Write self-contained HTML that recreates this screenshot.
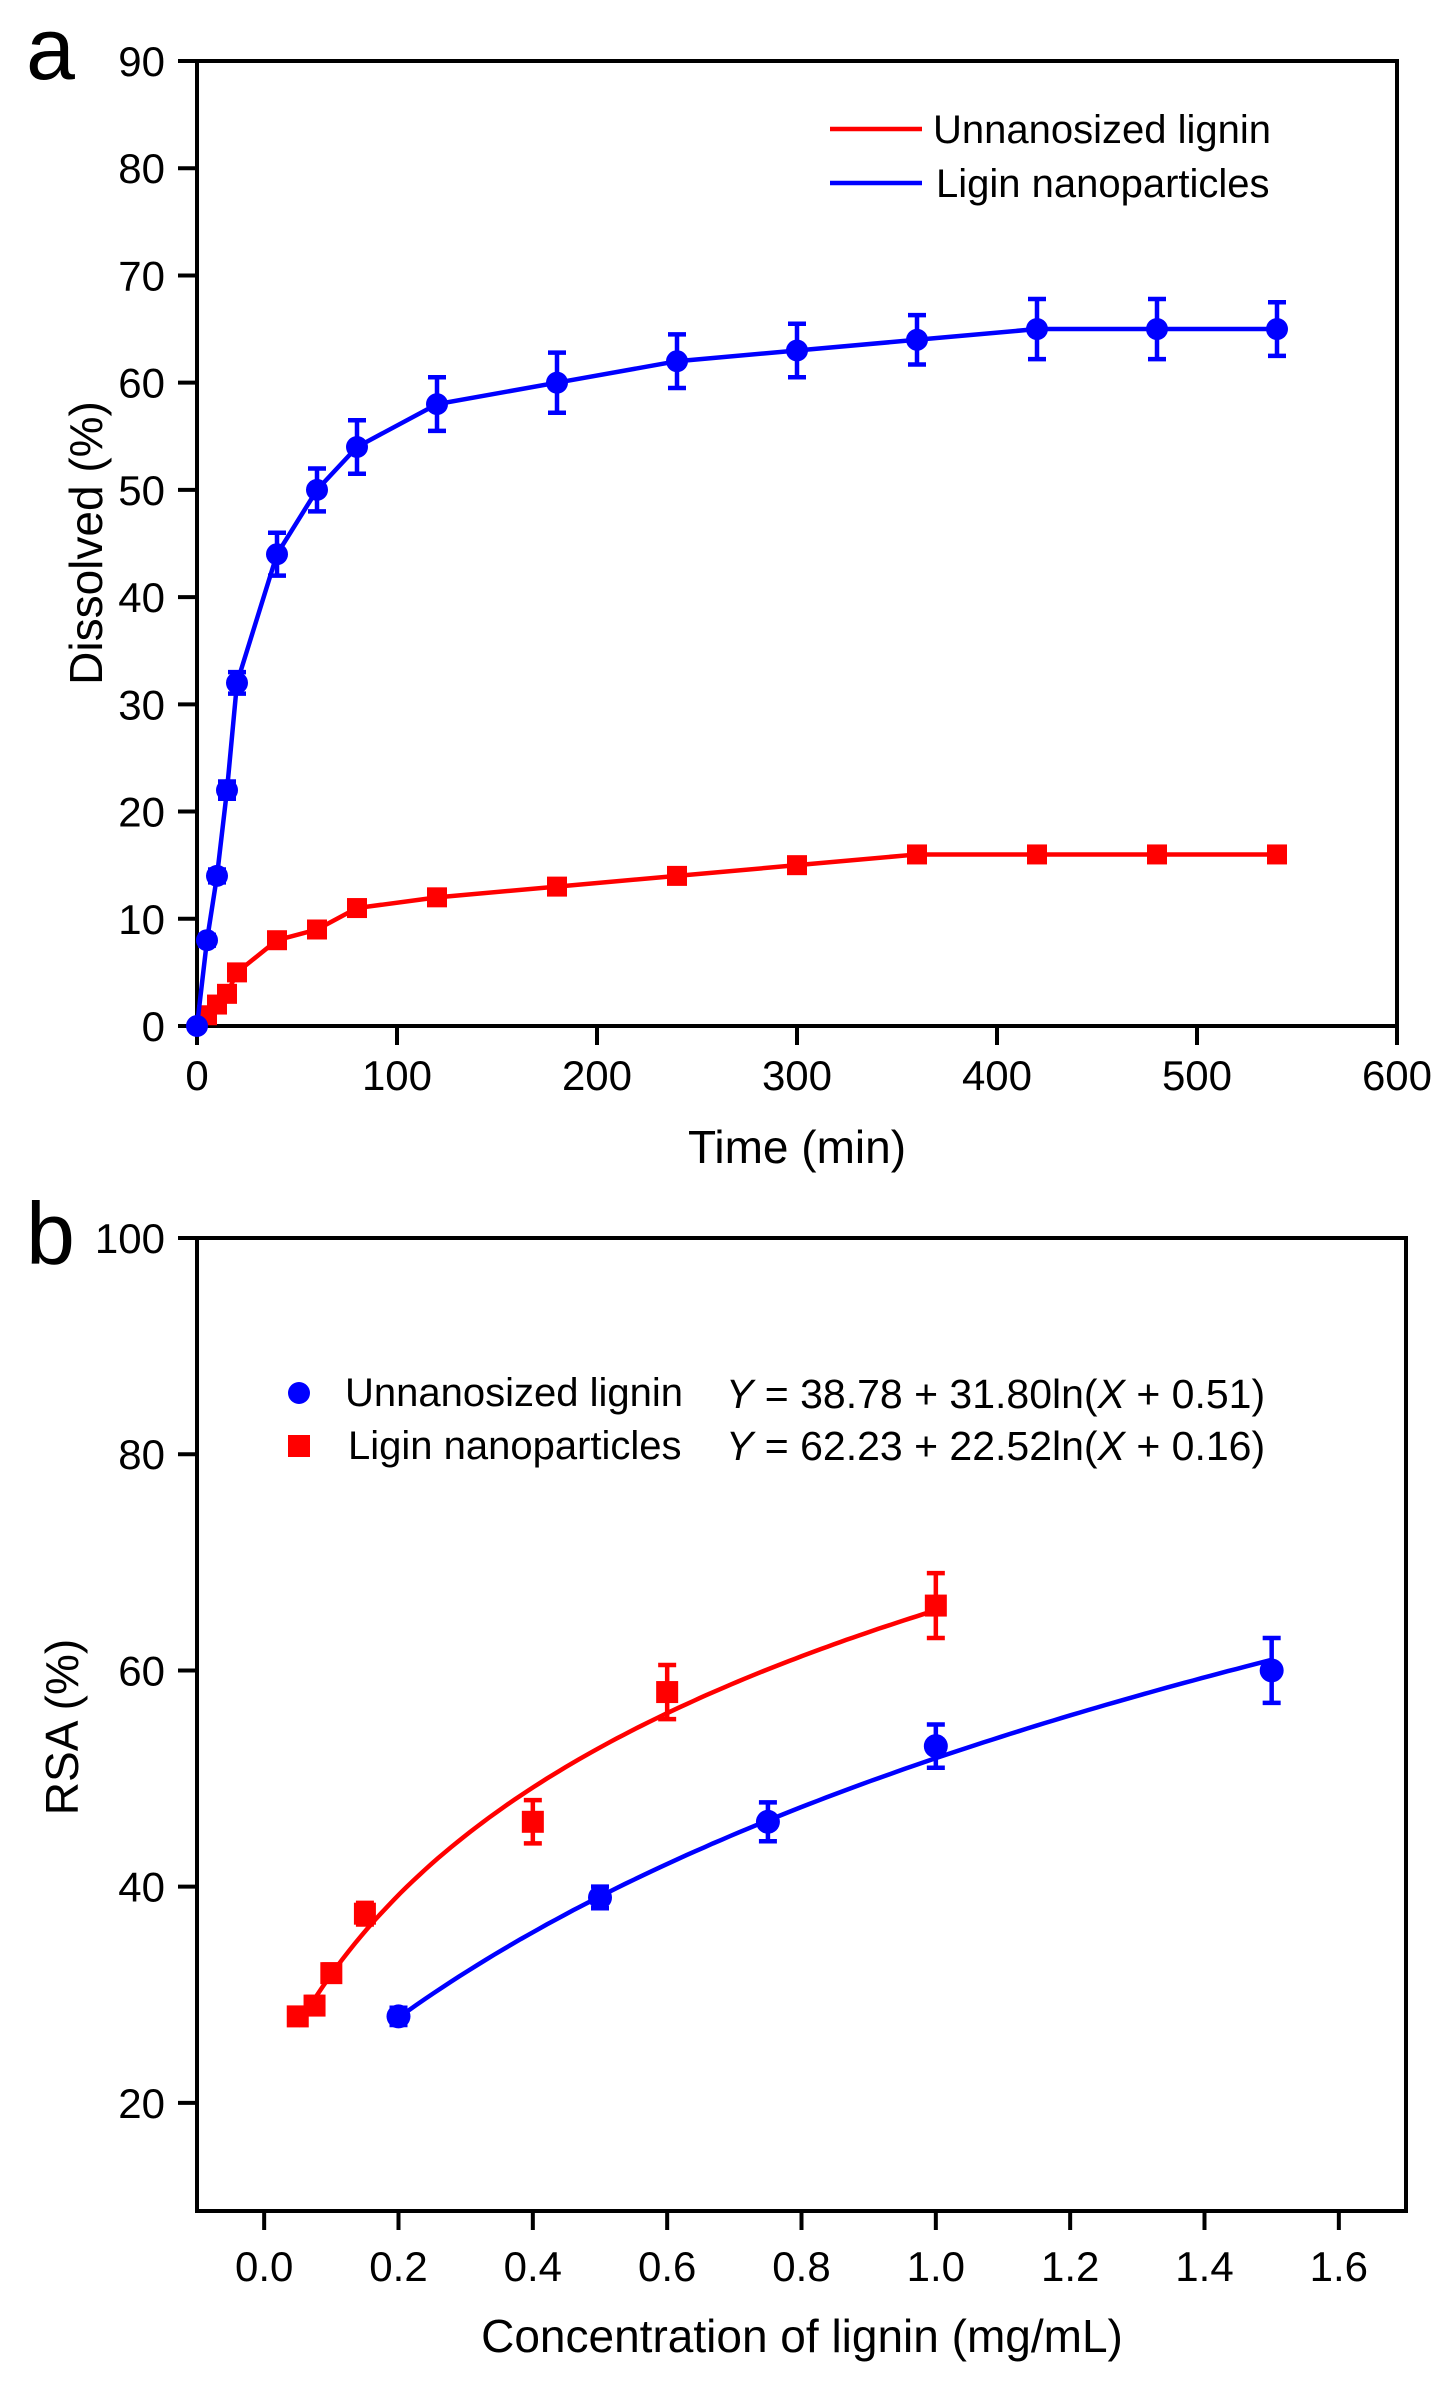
<!DOCTYPE html>
<html><head><meta charset="utf-8"><style>
html,body{margin:0;padding:0;background:#fff}
svg{display:block}
text{font-family:"Liberation Sans",Arial,sans-serif;fill:#000}
</style></head><body>
<svg id="fig" width="1446" height="2383" viewBox="0 0 1446 2383" xmlns="http://www.w3.org/2000/svg">
<text x="26" y="79" font-size="88">a</text>
<text x="26" y="1264" font-size="88">b</text>
<g id="ga"></g>
<g id="gb"></g>
</svg>
<script>
// ---- chart a data ----
const timesA = [0,5,10,15,20,40,60,80,120,180,240,300,360,420,480,540];
const nanoA = [0,8,14,22,32,44,50,54,58,60,62,63,64,65,65,65];
const nanoErrA = [0.3,0.5,0.6,0.8,1,2,2,2.5,2.5,2.8,2.5,2.5,2.3,2.8,2.8,2.5];
const timesRedA = [5,10,15,20,40,60,80,120,180,240,300,360,420,480,540];
const unnanoA = [1,2,3,5,8,9,11,12,13,14,15,16,16,16,16];
const xTicksA = [0,100,200,300,400,500,600];
const yTicksA = [0,10,20,30,40,50,60,70,80,90];
// ---- chart b data ----
const concBlue = [0.2,0.5,0.75,1.0,1.5];
const rsaBlue = [28,39,46,53,60];
const rsaBlueErr = [0.8,1,1.8,2,3];
const concRed = [0.05,0.075,0.1,0.15,0.4,0.6,1.0];
const rsaRed = [28,29,32,37.5,46,58,66];
const rsaRedErr = [0.5,0.8,0.8,1,2,2.5,3];
const fitBlue = [38.78,31.80,0.51];
const fitRed = [62.23,22.52,0.16];
const xTicksB = ["0.0","0.2","0.4","0.6","0.8","1.0","1.2","1.4","1.6"];
const yTicksB = [20,40,60,80,100];

const NS="http://www.w3.org/2000/svg";
const TF=42, TT=46, LF=40, LW=4.5;
function mk(parent,tag,attrs,txt){const e=document.createElementNS(NS,tag);for(const k in attrs)e.setAttribute(k,attrs[k]);if(txt!==undefined)e.textContent=txt;parent.appendChild(e);return e;}

// ===== Chart A =====
const ga=document.getElementById('ga');
const L=197,R=1397,T=61,B=1026;
const xA=v=>L+(v-0)/600*(R-L);
const yA=v=>B-(v-0)/90*(B-T);
let fr=mk(ga,'rect',{x:L,y:T,width:R-L,height:B-T,fill:'none',stroke:'#000','stroke-width':4});


xTicksA.forEach(v=>{
 let t=mk(ga,'line',{x1:xA(v),x2:xA(v),y1:B,y2:B+19,stroke:'#000','stroke-width':4});
 
 
 let l=mk(ga,'text',{x:xA(v),y:1090,'font-size':TF,'text-anchor':'middle'},String(v));
 
 
});
yTicksA.forEach(v=>{
 let t=mk(ga,'line',{x1:L-19,x2:L,y1:yA(v),y2:yA(v),stroke:'#000','stroke-width':4});
 
 
 let l=mk(ga,'text',{x:165,y:yA(v)+15,'font-size':TF,'text-anchor':'end'},String(v));
 
 
});
let xt=mk(ga,'text',{x:797,y:1163,'font-size':TT,'text-anchor':'middle'},'Time (min)');


let yt=mk(ga,'text',{x:0,y:0,'font-size':TT,'text-anchor':'middle',transform:'translate(102,543) rotate(-90)'},'Dissolved (%)');


// red series
let rp=timesRedA.map((t,i)=>xA(t)+','+yA(unnanoA[i]));
rp.unshift(xA(0)+','+yA(0));
let rl=mk(ga,'polyline',{points:rp.join(' '),fill:'none',stroke:'#ff0000','stroke-width':LW});


timesRedA.forEach((t,i)=>{
 let s=mk(ga,'rect',{x:xA(t)-10,y:yA(unnanoA[i])-10,width:20,height:20,fill:'#ff0000'});
 
 
});
// blue series
let bl=mk(ga,'polyline',{points:timesA.map((t,i)=>xA(t)+','+yA(nanoA[i])).join(' '),fill:'none',stroke:'#0000ff','stroke-width':LW});


timesA.forEach((t,i)=>{
 const x=xA(t),e=nanoErrA[i];
 let eb=mk(ga,'path',{d:`M${x},${yA(nanoA[i]+e)}V${yA(nanoA[i]-e)}M${x-9},${yA(nanoA[i]+e)}h18M${x-9},${yA(nanoA[i]-e)}h18`,stroke:'#0000ff','stroke-width':LW,fill:'none'});
 
 
 let c=mk(ga,'circle',{cx:x,cy:yA(nanoA[i]),r:11,fill:'#0000ff'});
 
 
});
// legend a
let lg=mk(ga,'g',{});


mk(lg,'line',{x1:830,x2:922,y1:129,y2:129,stroke:'#ff0000','stroke-width':LW});
mk(lg,'text',{x:933,y:143,'font-size':LF},'Unnanosized lignin');
mk(lg,'line',{x1:830,x2:922,y1:183,y2:183,stroke:'#0000ff','stroke-width':LW});
mk(lg,'text',{x:936,y:197,'font-size':LF},'Ligin nanoparticles');

// ===== Chart B =====
const gb=document.getElementById('gb');
const L2=197,R2=1406,T2=1238,B2=2211;
const xB=v=>L2+(v+0.1)/1.8*(R2-L2);
const yB=v=>B2-(v-10)/90*(B2-T2);
let fr2=mk(gb,'rect',{x:L2,y:T2,width:R2-L2,height:B2-T2,fill:'none',stroke:'#000','stroke-width':4});


xTicksB.forEach(s=>{
 const v=parseFloat(s);
 let t=mk(gb,'line',{x1:xB(v),x2:xB(v),y1:B2,y2:B2+19,stroke:'#000','stroke-width':4});
 
 
 let l=mk(gb,'text',{x:xB(v),y:2281,'font-size':TF,'text-anchor':'middle'},s);
 
 
});
yTicksB.forEach(v=>{
 let t=mk(gb,'line',{x1:L2-19,x2:L2,y1:yB(v),y2:yB(v),stroke:'#000','stroke-width':4});
 
 
 let l=mk(gb,'text',{x:165,y:yB(v)+15,'font-size':TF,'text-anchor':'end'},String(v));
 
 
});
let xt2=mk(gb,'text',{x:802,y:2352,'font-size':TT,'text-anchor':'middle'},'Concentration of lignin (mg/mL)');


let yt2=mk(gb,'text',{x:0,y:0,'font-size':TT,'text-anchor':'middle',transform:'translate(78,1727) rotate(-90)'},'RSA (%)');


function fitPath(p,x0,x1){let d='';for(let k=0;k<=100;k++){const x=x0+(x1-x0)*k/100;const y=p[0]+p[1]*Math.log(x+p[2]);d+=(k?'L':'M')+xB(x).toFixed(1)+','+yB(y).toFixed(1);}return d;}
let fb=mk(gb,'path',{d:fitPath(fitBlue,concBlue[0],concBlue[concBlue.length-1]),fill:'none',stroke:'#0000ff','stroke-width':LW});


let fRd=mk(gb,'path',{d:fitPath(fitRed,concRed[0],concRed[concRed.length-1]),fill:'none',stroke:'#ff0000','stroke-width':LW});


function errBar(x,v,e,col){return mk(gb,'path',{d:`M${x},${yB(v+e)}V${yB(v-e)}M${x-9},${yB(v+e)}h18M${x-9},${yB(v-e)}h18`,stroke:col,'stroke-width':LW,fill:'none'});}
concBlue.forEach((c,i)=>{
 let eb=errBar(xB(c),rsaBlue[i],rsaBlueErr[i],'#0000ff');
 
 
 let p=mk(gb,'circle',{cx:xB(c),cy:yB(rsaBlue[i]),r:12,fill:'#0000ff'});
 
 
});
concRed.forEach((c,i)=>{
 let eb=errBar(xB(c),rsaRed[i],rsaRedErr[i],'#ff0000');
 
 
 let p=mk(gb,'rect',{x:xB(c)-11,y:yB(rsaRed[i])-11,width:22,height:22,fill:'#ff0000'});
 
 
});
let lg2=mk(gb,'g',{});


mk(lg2,'circle',{cx:299,cy:1393,r:11,fill:'#0000ff'});
mk(lg2,'text',{x:345,y:1406,'font-size':LF},'Unnanosized lignin');
mk(lg2,'rect',{x:288,y:1435,width:22,height:22,fill:'#ff0000'});
mk(lg2,'text',{x:348,y:1459,'font-size':LF},'Ligin nanoparticles');
let e1=mk(lg2,'text',{x:726,y:1408,'font-size':41});
e1.innerHTML='<tspan font-style="italic">Y</tspan> = 38.78 + 31.80ln(<tspan font-style="italic">X</tspan> + 0.51)';
let e2=mk(lg2,'text',{x:726,y:1460,'font-size':41});
e2.innerHTML='<tspan font-style="italic">Y</tspan> = 62.23 + 22.52ln(<tspan font-style="italic">X</tspan> + 0.16)';
</script>
</body></html>
